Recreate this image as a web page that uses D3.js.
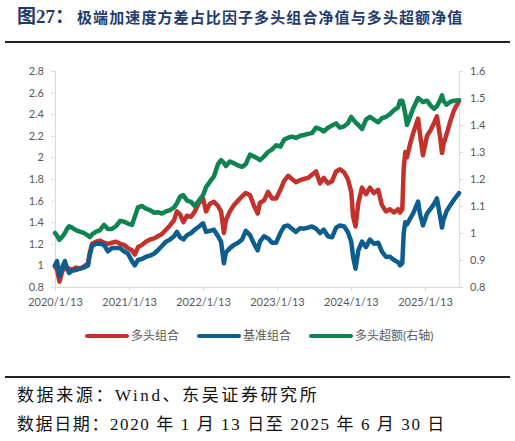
<!DOCTYPE html>
<html>
<head>
<meta charset="utf-8">
<script src="https://cdn.jsdelivr.net/npm/d3@7"></script>
<style>
  body { margin: 0; background: #fff; }
  svg { display: block; }
</style>
</head>
<body>
<svg id="chart" width="515" height="441"></svg>
<script>
// Sample dates (trading days)
const dates = [
  '2020-01-13','2020-01-23','2020-02-04','2020-02-17','2020-03-02','2020-03-12','2020-03-23','2020-04-06','2020-04-27','2020-05-15',
  '2020-06-04','2020-06-24','2020-07-03','2020-07-14','2020-08-03','2020-08-21','2020-09-11','2020-09-30','2020-10-20','2020-11-09',
  '2020-11-30','2020-12-18','2021-01-07','2021-01-27','2021-02-10','2021-02-26','2021-03-18','2021-04-06','2021-04-26','2021-05-17',
  '2021-06-04','2021-06-24','2021-07-14','2021-08-03','2021-08-23','2021-09-06','2021-09-22','2021-10-08','2021-10-26','2021-11-15',
  '2021-12-03','2021-12-24','2022-01-13','2022-01-28','2022-02-16','2022-03-08','2022-03-28','2022-04-12','2022-04-26','2022-05-06',
  '2022-05-26','2022-06-15','2022-07-05','2022-07-25','2022-08-12','2022-09-02','2022-09-22','2022-10-10','2022-10-21','2022-11-10',
  '2022-11-30','2022-12-20','2023-01-09','2023-01-30','2023-02-17','2023-03-09','2023-03-28','2023-04-17','2023-05-08','2023-05-26',
  '2023-06-15','2023-07-05','2023-07-25','2023-08-14','2023-09-01','2023-09-22','2023-10-12','2023-11-01','2023-11-20','2023-12-11',
  '2023-12-29','2024-01-15','2024-01-24','2024-02-05','2024-02-19','2024-03-08','2024-03-28','2024-04-16','2024-05-06','2024-05-27',
  '2024-06-14','2024-07-04','2024-07-24','2024-08-13','2024-09-02','2024-09-12','2024-09-23','2024-09-30','2024-10-08','2024-10-16',
  '2024-10-31','2024-11-15','2024-12-10','2024-12-19','2025-01-03','2025-01-23','2025-02-12','2025-02-27','2025-03-13','2025-03-28',
  '2025-04-07','2025-04-14','2025-04-29','2025-05-19','2025-06-06','2025-06-30'
];

// 多头组合 (left axis)
const longValues = [
  0.99, 0.96, 0.85, 0.94, 0.99, 0.98, 0.97, 0.96, 0.98, 0.97,
  0.99, 1.02, 1.12, 1.20, 1.22, 1.23, 1.21, 1.20, 1.21, 1.22,
  1.20, 1.19, 1.16, 1.14, 1.10, 1.17, 1.19, 1.22, 1.24, 1.25,
  1.27, 1.29, 1.33, 1.37, 1.42, 1.50, 1.47, 1.40, 1.46, 1.45,
  1.50, 1.58, 1.62, 1.50, 1.57, 1.59, 1.55, 1.50, 1.30, 1.42,
  1.50, 1.56, 1.60, 1.64, 1.67, 1.65, 1.55, 1.48, 1.58, 1.60,
  1.68, 1.62, 1.62, 1.70, 1.78, 1.83, 1.80, 1.77, 1.79, 1.80,
  1.81, 1.84, 1.87, 1.76, 1.81, 1.76, 1.78, 1.87, 1.89, 1.86,
  1.80, 1.68, 1.45, 1.36, 1.58, 1.72, 1.66, 1.72, 1.67, 1.70,
  1.56, 1.50, 1.52, 1.49, 1.52, 1.49, 1.52, 1.90, 2.05, 2.00,
  2.12, 2.22, 2.36, 2.22, 2.02, 2.20, 2.26, 2.32, 2.38, 2.20,
  2.04, 2.12, 2.21, 2.34, 2.44, 2.52
];

// 基准组合 (left axis)
const benchValues = [
  1.00, 1.04, 0.90, 0.98, 1.04, 0.97, 0.93, 0.95, 0.96, 0.97,
  0.98, 1.00, 1.10, 1.18, 1.20, 1.20, 1.19, 1.13, 1.16, 1.16,
  1.16, 1.13, 1.11, 1.04, 1.00, 1.05, 1.06, 1.08, 1.09, 1.11,
  1.14, 1.18, 1.22, 1.24, 1.27, 1.31, 1.26, 1.24, 1.28, 1.30,
  1.33, 1.36, 1.39, 1.31, 1.32, 1.33, 1.27, 1.22, 1.02, 1.12,
  1.16, 1.19, 1.21, 1.24, 1.32, 1.28, 1.20, 1.14, 1.22, 1.27,
  1.25, 1.21, 1.21, 1.30, 1.36, 1.37, 1.34, 1.31, 1.345, 1.34,
  1.35, 1.36, 1.34, 1.30, 1.33, 1.27, 1.26, 1.35, 1.37, 1.36,
  1.31, 1.22, 1.08, 0.97, 1.14, 1.22, 1.17, 1.24, 1.20, 1.21,
  1.13, 1.08, 1.08, 1.05, 1.03, 1.00, 1.02, 1.30, 1.40, 1.38,
  1.43, 1.48, 1.59, 1.48, 1.37, 1.48, 1.53, 1.57, 1.62, 1.46,
  1.35, 1.42, 1.50, 1.56, 1.61, 1.67
];

// 多头超额 (right axis)
const excessValues = [
  1.00, 0.99, 0.975, 0.985, 1.00, 1.015, 1.025, 1.02, 1.01, 1.005,
  1.00, 0.99, 0.985, 0.995, 1.005, 1.01, 1.03, 1.015, 1.015, 1.025,
  1.045, 1.042, 1.035, 1.03, 1.06, 1.095, 1.10, 1.09, 1.085, 1.075,
  1.077, 1.072, 1.08, 1.085, 1.095, 1.11, 1.135, 1.14, 1.12, 1.115,
  1.10, 1.12, 1.14, 1.17, 1.19, 1.21, 1.255, 1.27, 1.26, 1.248,
  1.265, 1.258, 1.25, 1.245, 1.255, 1.29, 1.283, 1.276, 1.27, 1.283,
  1.30, 1.31, 1.325, 1.32, 1.345, 1.353, 1.357, 1.352, 1.36, 1.363,
  1.367, 1.37, 1.39, 1.385, 1.376, 1.39, 1.398, 1.406, 1.39, 1.395,
  1.406, 1.43, 1.42, 1.41, 1.40, 1.385, 1.42, 1.43, 1.42, 1.41,
  1.425, 1.43, 1.44, 1.455, 1.465, 1.49, 1.49, 1.47, 1.44, 1.40,
  1.43, 1.46, 1.50, 1.495, 1.485, 1.49, 1.47, 1.46, 1.47, 1.49,
  1.51, 1.49, 1.475, 1.486, 1.49, 1.492
];

const xTickLabels = ['2020/1/13', '2021/1/13', '2022/1/13', '2023/1/13', '2024/1/13', '2025/1/13'];
const leftTicks = [0.8, 1.0, 1.2, 1.4, 1.6, 1.8, 2.0, 2.2, 2.4, 2.6, 2.8];
const rightTicks = [0.8, 0.9, 1.0, 1.1, 1.2, 1.3, 1.4, 1.5, 1.6];
const seriesNames = ['多头组合', '基准组合', '多头超额(右轴)'];
const seriesColors = ['#c4312b', '#0d5d8e', '#0e8450'];

const parseDate = d3.timeParse('%Y-%m-%d');
const dateObjs = dates.map(parseDate);

const svg = d3.select('#chart');
svg.append('rect').attr('width', 515).attr('height', 441).attr('fill', '#fff');

// Title
const title = svg.append('text')
  .attr('x', 17).attr('y', 23)
  .attr('fill', '#1f3a6c')
  .attr('font-weight', 'bold')
  .attr('font-family', '"Liberation Serif", "Noto Sans CJK SC", serif');
title.append('tspan').attr('font-size', 19).text('图27：');
title.append('tspan').attr('dx', 3).attr('font-size', 15).attr('letter-spacing', 1.1)
  .text('极端加速度方差占比因子多头组合净值与多头超额净值');

// Rules
svg.append('line').attr('x1', 5).attr('x2', 510).attr('y1', 42).attr('y2', 42)
  .attr('stroke', '#222').attr('stroke-width', 2);
svg.append('line').attr('x1', 5).attr('x2', 510).attr('y1', 377).attr('y2', 377)
  .attr('stroke', '#222').attr('stroke-width', 2);

// Scales
const x = d3.scaleTime()
  .domain([parseDate('2020-01-13'), parseDate('2025-06-30')])
  .range([55, 459]);
const yLeft = d3.scaleLinear().domain([0.8, 2.8]).range([287, 71]);
const yRight = d3.scaleLinear().domain([0.8, 1.6]).range([287, 71]);

const fmt = (d) => String(+d.toFixed(1));
const axisColor = '#d9d9d9';
const labelColor = '#595959';

function styleAxis(g) {
  g.select('.domain').attr('stroke', axisColor).attr('stroke-width', 1);
  g.selectAll('.tick line').attr('stroke', axisColor);
  g.selectAll('.tick text')
    .attr('fill', labelColor)
    .attr('font-size', 11)
    .attr('font-family', 'Lato, "Open Sans", sans-serif');
}

svg.append('g')
  .attr('transform', 'translate(55,0)')
  .call(d3.axisLeft(yLeft).tickValues(leftTicks).tickFormat(fmt).tickSize(4).tickSizeOuter(0).tickPadding(7))
  .call(styleAxis);

svg.append('g')
  .attr('transform', 'translate(459,0)')
  .call(d3.axisRight(yRight).tickValues(rightTicks).tickFormat(fmt).tickSize(4).tickSizeOuter(0).tickPadding(7))
  .call(styleAxis);

const xTickDates = xTickLabels.map((s) => d3.timeParse('%Y/%m/%d')(s));
svg.append('g')
  .attr('transform', 'translate(0,287)')
  .call(d3.axisBottom(x).tickValues(xTickDates).tickFormat((d, i) => xTickLabels[i]).tickSize(4).tickSizeOuter(0).tickPadding(7))
  .call(styleAxis);

// Lines
const lineLeft = d3.line().x((d, i) => x(dateObjs[i])).y((d) => yLeft(d));
const lineRight = d3.line().x((d, i) => x(dateObjs[i])).y((d) => yRight(d));

const plot = svg.append('g')
  .attr('fill', 'none')
  .attr('stroke-width', 4.5)
  .attr('stroke-linejoin', 'round')
  .attr('stroke-linecap', 'round');
plot.append('path').attr('d', lineLeft(longValues)).attr('stroke', seriesColors[0]);
plot.append('path').attr('d', lineLeft(benchValues)).attr('stroke', seriesColors[1]);
plot.append('path').attr('d', lineRight(excessValues)).attr('stroke', seriesColors[2]);

// Legend
const legendX = [87, 199, 311];
const legend = svg.append('g');
seriesNames.forEach((name, i) => {
  legend.append('line')
    .attr('x1', legendX[i]).attr('x2', legendX[i] + 40)
    .attr('y1', 336).attr('y2', 336)
    .attr('stroke', seriesColors[i]).attr('stroke-width', 4)
    .attr('stroke-linecap', 'round');
  legend.append('text')
    .attr('x', legendX[i] + 44).attr('y', 340)
    .attr('fill', labelColor)
    .attr('font-size', 12)
    .attr('font-family', 'Lato, "Noto Sans CJK SC", sans-serif')
    .text(name);
});

// Footer
const footer = svg.append('g')
  .attr('fill', '#111')
  .attr('font-size', 17)
  .attr('font-family', '"Liberation Serif", "Noto Sans CJK SC", serif');
footer.append('text').attr('x', 17).attr('y', 401).attr('letter-spacing', 2.6)
  .text('数据来源：Wind、东吴证券研究所');
footer.append('text').attr('x', 17).attr('y', 430).attr('letter-spacing', 1.6)
  .text('数据日期：2020 年 1 月 13 日至 2025 年 6 月 30 日');
</script>
</body>
</html>
